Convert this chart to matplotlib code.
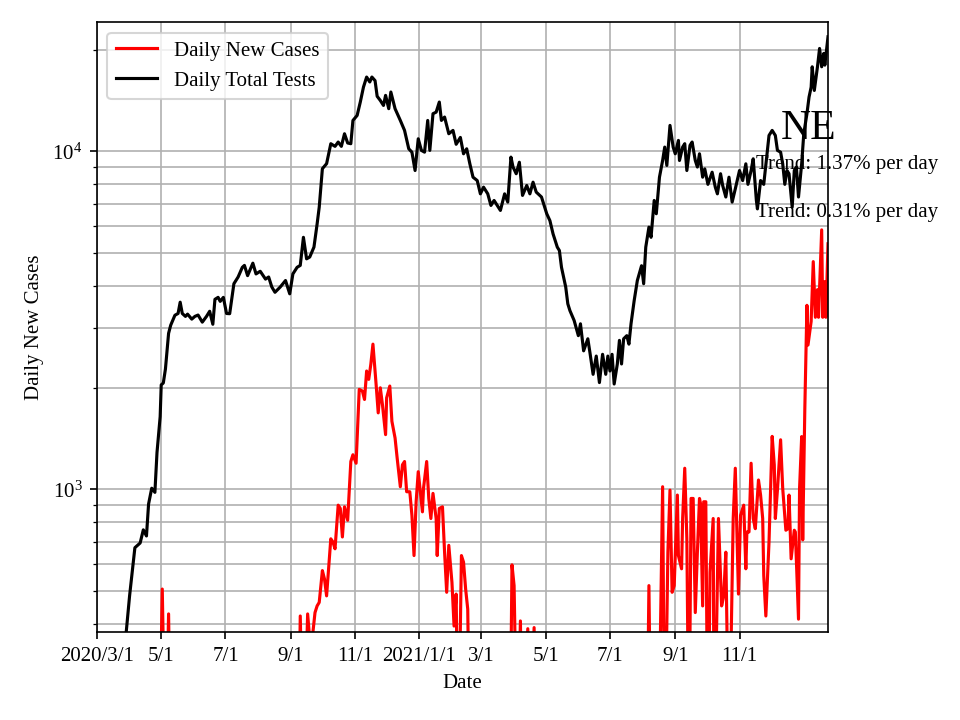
import matplotlib
matplotlib.use("Agg")
import matplotlib.pyplot as plt
import pandas as pd

plt.rcParams["font.family"] = ["Liberation Serif", "DejaVu Serif"]
plt.rcParams["mathtext.fontset"] = "stix"

# daily total tests
test_dates = [
    "2020-03-01", "2020-03-10", "2020-03-20", "2020-03-27", "2020-04-01", "2020-04-06",
    "2020-04-11", "2020-04-14", "2020-04-17", "2020-04-19", "2020-04-22", "2020-04-25",
    "2020-04-27", "2020-04-30", "2020-05-01", "2020-05-03", "2020-05-05", "2020-05-08",
    "2020-05-10", "2020-05-14", "2020-05-17", "2020-05-19", "2020-05-21", "2020-05-24",
    "2020-05-26", "2020-05-30", "2020-06-02", "2020-06-05", "2020-06-09", "2020-06-13",
    "2020-06-16", "2020-06-19", "2020-06-21", "2020-06-24", "2020-06-26", "2020-06-29",
    "2020-07-02", "2020-07-05", "2020-07-09", "2020-07-13", "2020-07-17", "2020-07-19",
    "2020-07-22", "2020-07-27", "2020-07-30", "2020-08-03", "2020-08-08", "2020-08-11",
    "2020-08-14", "2020-08-17", "2020-08-22", "2020-08-27", "2020-08-29", "2020-08-31",
    "2020-09-03", "2020-09-07", "2020-09-10", "2020-09-13", "2020-09-16", "2020-09-19",
    "2020-09-23", "2020-09-26", "2020-09-28", "2020-10-01", "2020-10-05", "2020-10-09",
    "2020-10-13", "2020-10-16", "2020-10-19", "2020-10-22", "2020-10-25", "2020-10-28",
    "2020-10-30", "2020-11-03", "2020-11-06", "2020-11-09", "2020-11-12", "2020-11-15",
    "2020-11-17", "2020-11-20", "2020-11-22", "2020-11-25", "2020-11-28", "2020-11-30",
    "2020-12-03", "2020-12-05", "2020-12-09", "2020-12-14", "2020-12-18", "2020-12-22",
    "2020-12-25", "2020-12-28", "2020-12-31", "2021-01-03", "2021-01-06", "2021-01-09",
    "2021-01-11", "2021-01-14", "2021-01-17", "2021-01-20", "2021-01-22", "2021-01-25",
    "2021-01-29", "2021-02-02", "2021-02-05", "2021-02-09", "2021-02-12", "2021-02-15",
    "2021-02-18", "2021-02-21", "2021-02-25", "2021-02-28", "2021-03-03", "2021-03-07",
    "2021-03-10", "2021-03-13", "2021-03-16", "2021-03-19", "2021-03-23", "2021-03-26",
    "2021-03-29", "2021-03-31", "2021-04-03", "2021-04-06", "2021-04-09", "2021-04-13",
    "2021-04-16", "2021-04-19", "2021-04-22", "2021-04-27", "2021-05-02", "2021-05-05",
    "2021-05-08", "2021-05-12", "2021-05-14", "2021-05-16", "2021-05-20", "2021-05-22",
    "2021-05-24", "2021-05-28", "2021-06-01", "2021-06-03", "2021-06-06", "2021-06-10",
    "2021-06-12", "2021-06-15", "2021-06-18", "2021-06-21", "2021-06-24", "2021-06-27",
    "2021-06-29", "2021-07-01", "2021-07-03", "2021-07-05", "2021-07-08", "2021-07-10",
    "2021-07-12", "2021-07-14", "2021-07-17", "2021-07-19", "2021-07-21", "2021-07-24",
    "2021-07-27", "2021-07-31", "2021-08-02", "2021-08-04", "2021-08-07", "2021-08-09",
    "2021-08-12", "2021-08-14", "2021-08-17", "2021-08-20", "2021-08-22", "2021-08-24",
    "2021-08-27", "2021-08-30", "2021-09-01", "2021-09-04", "2021-09-05", "2021-09-08",
    "2021-09-10", "2021-09-12", "2021-09-15", "2021-09-17", "2021-09-20", "2021-09-22",
    "2021-09-24", "2021-09-27", "2021-09-29", "2021-10-02", "2021-10-06", "2021-10-09",
    "2021-10-11", "2021-10-14", "2021-10-16", "2021-10-19", "2021-10-22", "2021-10-25",
    "2021-10-28", "2021-11-01", "2021-11-04", "2021-11-07", "2021-11-09", "2021-11-12",
    "2021-11-14", "2021-11-17", "2021-11-18", "2021-11-21", "2021-11-24", "2021-11-27",
    "2021-11-29", "2021-12-02", "2021-12-05", "2021-12-07", "2021-12-10", "2021-12-12",
    "2021-12-14", "2021-12-16", "2021-12-18", "2021-12-21", "2021-12-23", "2021-12-25",
    "2021-12-27", "2021-12-30", "2022-01-01", "2022-01-04", "2022-01-06", "2022-01-08",
    "2022-01-09", "2022-01-11", "2022-01-14", "2022-01-16", "2022-01-18", "2022-01-20",
    "2022-01-21", "2022-01-23", "2022-01-24",
]
test_values = [
    40, 90, 180, 330, 485, 672,
    694, 759, 728, 905, 1008, 980,
    1286, 1641, 2037, 2065, 2270, 2896,
    3060, 3275, 3315, 3580, 3315, 3250,
    3300, 3190, 3250, 3280, 3125, 3250,
    3365, 3080, 3650, 3700, 3600, 3700,
    3315, 3310, 4060, 4250, 4540, 4600,
    4290, 4670, 4340, 4420, 4190, 4250,
    3970, 3830, 3970, 4150, 3970, 3790,
    4340, 4540, 4600, 5570, 4810, 4870,
    5210, 6100, 6840, 8890, 9200, 10540,
    10350, 10660, 10350, 11280, 10590, 10540,
    12350, 12780, 14000, 15500, 16600, 16050,
    16600, 16200, 14560, 14150, 13680, 14650,
    13380, 14990, 13380, 12350, 11540, 10180,
    9950, 8780, 10900, 10070, 9950, 12350,
    10070, 12930, 13070, 14000, 12350, 12640,
    11280, 11540, 10500, 11000, 9840, 10180,
    9190, 8390, 8200, 7490, 7840, 7490,
    6920, 7160, 6920, 6690, 7490, 7080,
    9620, 8990, 8590, 9290, 7410, 7930,
    7490, 8110, 7580, 7330, 6540, 6240,
    5700, 5210, 5090, 4540, 3970, 3540,
    3380, 3160, 2850, 3090, 2570, 2790,
    2540, 2190, 2480, 2070, 2510, 2190,
    2480, 2240, 2510, 2050, 2350, 2760,
    2350, 2790, 2850, 2690, 3090, 3620,
    4150, 4590, 4060, 5210, 5970, 5570,
    7160, 6540, 8390, 9400, 10300, 9090,
    11940, 10300, 9840, 10780, 9400, 10300,
    10540, 8780, 10420, 10660, 9400, 8990,
    9840, 8390, 8880, 7990, 8680, 7840,
    7490, 8590, 7930, 7330, 8390, 7080,
    7750, 8780, 8200, 9190, 7990, 8780,
    9510, 7160, 6760, 8200, 7990, 9730,
    11150, 11540, 11150, 10070, 9950, 9190,
    7990, 8780, 8590, 6840, 8780, 8990,
    7330, 9190, 11280, 12930, 14480, 15500,
    17800, 15150, 17800, 20170, 17800, 19500,
    18000, 20400, 21840,
]

# daily new cases (values below the axis bottom are drawn as 150)
case_dates = [
    "2020-03-01", "2020-04-29", "2020-05-02", "2020-05-05", "2020-05-08", "2020-05-10",
    "2020-09-08", "2020-09-10", "2020-09-13", "2020-09-17", "2020-09-20", "2020-09-24",
    "2020-09-26", "2020-09-28", "2020-10-01", "2020-10-03", "2020-10-05", "2020-10-09",
    "2020-10-11", "2020-10-13", "2020-10-16", "2020-10-18", "2020-10-20", "2020-10-22",
    "2020-10-25", "2020-10-28", "2020-10-30", "2020-11-02", "2020-11-05", "2020-11-08",
    "2020-11-10", "2020-11-12", "2020-11-14", "2020-11-16", "2020-11-18", "2020-11-21",
    "2020-11-23", "2020-11-25", "2020-11-27", "2020-11-30", "2020-12-01", "2020-12-04",
    "2020-12-06", "2020-12-09", "2020-12-11", "2020-12-14", "2020-12-16", "2020-12-18",
    "2020-12-20", "2020-12-23", "2020-12-25", "2020-12-27", "2020-12-29", "2020-12-31",
    "2021-01-02", "2021-01-04", "2021-01-05", "2021-01-08", "2021-01-10", "2021-01-12",
    "2021-01-14", "2021-01-17", "2021-01-18", "2021-01-20", "2021-01-23", "2021-01-25",
    "2021-01-27", "2021-01-29", "2021-02-01", "2021-02-03", "2021-02-05", "2021-02-07",
    "2021-02-10", "2021-02-12", "2021-02-14", "2021-02-16", "2021-02-18", "2021-03-28",
    "2021-03-30", "2021-04-01", "2021-04-04", "2021-04-07", "2021-04-09", "2021-04-14",
    "2021-04-16", "2021-04-20", "2021-04-22", "2021-08-05", "2021-08-07", "2021-08-09",
    "2021-08-16", "2021-08-20", "2021-08-22", "2021-08-25", "2021-08-27", "2021-08-29",
    "2021-08-31", "2021-09-03", "2021-09-04", "2021-09-07", "2021-09-08", "2021-09-10",
    "2021-09-12", "2021-09-14", "2021-09-16", "2021-09-18", "2021-09-20", "2021-09-22",
    "2021-09-24", "2021-09-25", "2021-09-27", "2021-09-28", "2021-09-30", "2021-10-02",
    "2021-10-04", "2021-10-07", "2021-10-08", "2021-10-11", "2021-10-12", "2021-10-15",
    "2021-10-17", "2021-10-19", "2021-10-22", "2021-10-26", "2021-10-28", "2021-10-31",
    "2021-11-02", "2021-11-05", "2021-11-07", "2021-11-08", "2021-11-10", "2021-11-12",
    "2021-11-14", "2021-11-16", "2021-11-19", "2021-11-21", "2021-11-23", "2021-11-24",
    "2021-11-26", "2021-11-29", "2021-12-02", "2021-12-04", "2021-12-05", "2021-12-07",
    "2021-12-10", "2021-12-12", "2021-12-15", "2021-12-17", "2021-12-18", "2021-12-20",
    "2021-12-23", "2021-12-24", "2021-12-27", "2021-12-28", "2021-12-30", "2021-12-31",
    "2022-01-02", "2022-01-04", "2022-01-05", "2022-01-08", "2022-01-10", "2022-01-12",
    "2022-01-14", "2022-01-15", "2022-01-18", "2022-01-19", "2022-01-21", "2022-01-22",
    "2022-01-24",
]
case_values = [
    50, 150, 507, 150, 428, 150,
    150, 422, 150, 428, 330, 432,
    452, 463, 575, 543, 484, 714,
    699, 667, 898, 878, 723, 888,
    810, 1209, 1266, 1195, 1977, 1954,
    1845, 2240, 2116, 2347, 2690, 2045,
    1684, 1998, 1783, 1452, 1866, 2022,
    1590, 1419, 1237, 1018, 1182, 1209,
    984, 984, 838, 637, 919, 1128,
    984, 858, 1007, 1209, 940, 820,
    973, 820, 637, 878, 888, 652,
    496, 683, 531, 394, 490, 150,
    637, 609, 507, 442, 150, 150,
    598, 519, 150, 408, 150, 387,
    150, 390, 150, 150, 519, 150,
    150, 1018, 150, 652, 995, 496,
    519, 962, 637, 582, 820, 1155,
    714, 150, 940, 940, 432, 652,
    940, 908, 452, 919, 919, 150,
    569, 820, 150, 531, 820, 452,
    484, 652, 150, 820, 1155, 490,
    838, 898, 582, 748, 748, 1195,
    820, 765, 1066, 962, 820, 556,
    422, 699, 1435, 1182, 820, 995,
    1402, 1007, 757, 765, 962, 623,
    757, 748, 413, 1007, 1433, 709,
    1734, 3505, 2673, 3140, 4720, 3230,
    3900, 3230, 5860, 3230, 4120, 3230,
    5330,
]

tick_dates = ["2020-03-01", "2020-05-01", "2020-07-01", "2020-09-01", "2020-11-01",
              "2021-01-01", "2021-03-01", "2021-05-01", "2021-07-01", "2021-09-01",
              "2021-11-01"]
tick_labels = ["2020/3/1", "5/1", "7/1", "9/1", "11/1", "2021/1/1",
               "3/1", "5/1", "7/1", "9/1", "11/1"]

region = "NE"
trend_cases = 1.37
trend_tests = 0.31

fig, ax = plt.subplots(figsize=(6.4, 4.8), dpi=150)
fig.subplots_adjust(left=0.101, right=0.8625, bottom=0.122, top=0.969)

ax.plot(pd.to_datetime(case_dates), case_values, color="red", label="Daily New Cases")
ax.plot(pd.to_datetime(test_dates), test_values, color="black", label="Daily Total Tests")

ax.set_yscale("log")
ax.set_ylim(378, 24100)
ax.set_xlim(pd.Timestamp("2020-03-01"), pd.Timestamp(test_dates[-1]))
ax.set_xticks(pd.to_datetime(tick_dates))
ax.set_xticklabels(tick_labels)
ax.grid(True, which="both")

ax.set_xlabel("Date")
ax.set_ylabel("Daily New Cases")
ax.legend(loc="upper left")

ax.text(0.936, 0.808, region, fontsize=20, transform=ax.transAxes)
ax.text(0.902, 0.759, "Trend: {:.2f}% per day".format(trend_cases), transform=ax.transAxes)
ax.text(0.902, 0.680, "Trend: {:.2f}% per day".format(trend_tests), transform=ax.transAxes)

fig.savefig("out.png")
